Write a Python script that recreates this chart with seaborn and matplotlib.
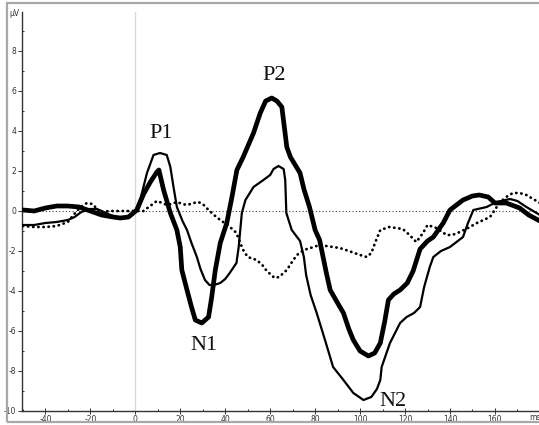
import numpy as np
import pandas as pd
import seaborn as sns
import matplotlib.pyplot as plt
from matplotlib.patches import Rectangle
from matplotlib.ticker import MultipleLocator

# ---- data (ms, µV) ----
thick_t = [-50, -45, -40, -35, -30, -25, -20, -15, -10, -6.7, -3, 0.7, 3.7, 6.7, 9.6, 10.5, 12.6,
           15.6, 18.5, 20, 20.7, 23, 25, 26.7, 29.6, 32.6, 34, 35.6, 37.8, 40.7, 43, 45.2, 48,
           52.6, 55.6, 58, 60.7, 63, 65.2, 67.4, 69, 73.3, 75, 77.5, 80, 82, 85, 86.7, 90, 92.6,
           95, 97, 100, 103.7, 106.5, 109, 111, 112.6, 115, 117.8, 121, 123.6, 126.7, 130, 132.6,
           137, 140, 145.8, 150, 153, 157, 160, 165, 171, 175, 180]
thick_v = [0.05, 0.0, 0.15, 0.25, 0.25, 0.2, 0.0, -0.2, -0.3, -0.35, -0.3, 0.05, 0.85, 1.45, 1.95, 2.05, 1.05,
           -0.1, -0.95, -1.8, -2.95, -3.95, -4.8, -5.45, -5.6, -5.3, -4.3, -2.95, -1.6, -0.6, 0.7, 2.05, 2.7,
           3.9, 4.9, 5.5, 5.65, 5.5, 5.2, 3.2, 2.7, 1.9, 1.1, 0.2, -0.95, -1.45, -3.1, -3.95, -4.6, -5.1,
           -5.9, -6.45, -7.0, -7.25, -7.1, -6.6, -5.5, -4.45, -4.15, -3.95, -3.6, -3.0, -1.9, -1.5, -1.3,
           -0.6, 0.05, 0.55, 0.75, 0.8, 0.7, 0.4, 0.4, 0.15, -0.2, -0.5]

thin_t = [-50, -45, -40, -35, -30, -27, -24, -20, -17, -14, -10, -6, -3, 0, 2.5, 5.2, 8.1, 11, 14,
          15.6, 17, 18.5, 21, 23, 25, 27.4, 29, 31, 33, 35, 37.8, 40, 42, 45, 46, 47.4, 49, 52.6,
          57, 60, 61.5, 63.7, 66, 66.7, 67.2, 69.6, 73.3, 75, 76, 78, 80.7, 84.4, 88, 92.6, 97,
          101.5, 105, 107.5, 109, 109.6, 113.3, 117.8, 120.7, 124, 126.7, 128.5, 131, 132.6, 136,
          140, 145.8, 148, 150.4, 156.3, 160.7, 166.7, 170, 174, 178.5, 180]
thin_v = [-0.7, -0.7, -0.6, -0.55, -0.45, -0.3, -0.05, 0.1, 0.1, -0.05, -0.25, -0.35, -0.3, 0.0, 0.7,
          1.9, 2.8, 2.9, 2.8, 2.2, 1.2, 0.2, -0.5, -0.95, -1.6, -2.3, -2.9, -3.45, -3.7, -3.7, -3.6,
          -3.4, -3.1, -2.6, -1.8, -0.1, 0.55, 1.2, 1.55, 1.8, 2.1, 2.25, 2.1, 1.55, -0.1, -0.95, -1.5,
          -2.3, -3.2, -4.2, -5.1, -6.45, -7.8, -8.45, -9.1, -9.45, -9.3, -8.9, -8.45, -7.8, -6.6,
          -5.6, -5.3, -5.1, -4.8, -3.8, -2.8, -2.3, -2.0, -1.8, -1.3, -0.6, 0.05, 0.2, 0.45, 0.6,
          0.5, 0.2, -0.1, -0.2]

dot_t = [-50, -45, -40, -35, -30, -27.5, -24.4, -21.5, -19, -17.8, -15.5, -12, -8, -4, 0, 3.6, 6,
         9.6, 12, 14, 16, 18.5, 21, 23, 26, 28, 30, 32.6, 35, 37.8, 41, 43.7, 45, 46.7, 48, 50,
         54, 56.5, 58.5, 62, 64, 67.4, 70, 71.9, 75, 79.3, 82, 85, 91, 95, 100, 103, 105, 107,
         109, 113, 116, 119, 122, 125, 128, 130, 134, 138.5, 141, 144.4, 148, 152, 157.8, 162,
         165, 168, 171, 174, 177, 180]
dot_v = [-0.75, -0.8, -0.8, -0.75, -0.55, -0.2, 0.2, 0.4, 0.35, 0.2, -0.1, 0.0, 0.0, 0.0, 0.0, 0.0,
         0.2, 0.5, 0.4, 0.3, 0.35, 0.45, 0.35, 0.3, 0.4, 0.45, 0.35, 0.05, -0.2, -0.45, -0.7, -0.95,
         -1.1, -1.6, -1.95, -2.3, -2.45, -2.7, -3.0, -3.35, -3.3, -2.95, -2.5, -2.2, -1.95, -1.8,
         -1.7, -1.75, -1.85, -2.0, -2.2, -2.3, -2.1, -1.5, -0.95, -0.8, -0.85, -0.9, -1.2, -1.55,
         -1.1, -0.7, -0.85, -1.2, -1.2, -1.05, -0.85, -0.6, -0.3, 0.4, 0.7, 0.9, 0.9, 0.8, 0.6, 0.4]

peak_labels = ["P1", "P2", "N1", "N2"]
peak_t = [11.6, 61.8, 30.7, 114.7]
peak_v = [3.85, 6.8, -6.7, -9.55]

x_ticks = [-40, -20, 0, 20, 40, 60, 80, 100, 120, 140, 160]
y_ticks = [-10, -8, -6, -4, -2, 0, 2, 4, 6, 8]

sns.set_theme(style="white")
plt.rcParams['font.family'] = ['DejaVu Sans']

W, H = 539, 425
fig = plt.figure(figsize=(W / 100, H / 100), dpi=100)
fig.patch.set_facecolor("white")
ax = fig.add_axes([22 / W, 14 / H, 1 - 22 / W, (411 - 12) / H])
ax.set_facecolor("white")

# outer frame
fig.patches.append(Rectangle((7 / W, 3 / H), 1.2, 1 - 6 / H, transform=fig.transFigure,
                             fill=False, edgecolor="#a8a8a8", lw=1.6, clip_on=False))

# reference lines
ax.axvline(0, color="#d8d8d8", lw=1.0, zorder=1)
ax.axhline(0, color="#444444", lw=0.8, linestyle=(0, (1, 2)), zorder=1)

sns.lineplot(x=dot_t, y=dot_v, ax=ax, color="black", lw=2.0, estimator=None, sort=False,
             linestyle=(0, (0.1, 1.75)), dash_capstyle="round", zorder=3)
sns.lineplot(x=thin_t, y=thin_v, ax=ax, color="black", lw=1.6, estimator=None, sort=False, zorder=4,
             solid_joinstyle="round")
sns.lineplot(x=thick_t, y=thick_v, ax=ax, color="black", lw=3.4, estimator=None, sort=False, zorder=5,
             solid_joinstyle="round")

for lab, t, v in zip(peak_labels, peak_t, peak_v):
    ax.text(t, v, lab, ha="center", va="center", fontsize=16, family="Liberation Serif",
            color="#111111")

ax.set_xlim(-50.4, 179.6)
ax.set_ylim(-10, 9.95)
ax.set_xticks(x_ticks)
ax.set_yticks(y_ticks)
ax.set_xticklabels([str(v) for v in x_ticks])
ax.set_yticklabels([str(v) for v in y_ticks])
ax.xaxis.set_minor_locator(MultipleLocator(10))
ax.yaxis.set_minor_locator(MultipleLocator(1))
ax.tick_params(axis="both", which="major", labelsize=5.5, colors="#333333", length=3, width=0.7,
               pad=1)
ax.tick_params(axis="x", which="major", direction="inout", length=4)
ax.tick_params(axis="y", which="major", direction="out", length=3)
ax.tick_params(axis="both", which="minor", direction="in", length=1.5, width=0.7, colors="#333333")
ax.tick_params(bottom=True, left=True, which="both")
ax.set_xlabel("")
ax.set_ylabel("")

for s in ["top", "right"]:
    ax.spines[s].set_visible(False)
for s in ["left", "bottom"]:
    ax.spines[s].set_visible(True)
    ax.spines[s].set_color("#333333")
    ax.spines[s].set_linewidth(1.0)

fig.text(529 / W, 1 - 418 / H, "ms", fontsize=5.5, color="#333333", ha="left", va="center")
fig.text(9 / W, 1 - 13 / H, "µV", fontsize=5.5, color="#333333", ha="left", va="center")

fig.savefig("out.png", dpi=100, facecolor="white")
